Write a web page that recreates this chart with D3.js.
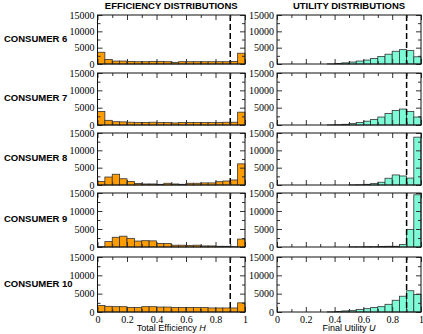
<!DOCTYPE html>
<html>
<head>
<meta charset="utf-8">
<script src="https://cdn.jsdelivr.net/npm/d3@7"></script>
<style>
  body { margin: 0; background: #fff; }
</style>
</head>
<body>
<div id="chart"></div>
<script>
// --- Daten ---
const consumers = ["CONSUMER 6", "CONSUMER 7", "CONSUMER 8", "CONSUMER 9", "CONSUMER 10"];
const binStarts = [0, 0.05, 0.1, 0.15, 0.2, 0.25, 0.3, 0.35, 0.4, 0.45,
                   0.5, 0.55, 0.6, 0.65, 0.7, 0.75, 0.8, 0.85, 0.9, 0.95];
const binWidth = 0.05;

// Total Efficiency H
const effC6  = [3600, 1400, 900, 900, 800, 700, 700, 800, 800, 700, 500, 700, 700, 700, 700, 700, 700, 700, 800, 3300];
const effC7  = [3900, 1350, 950, 900, 800, 700, 700, 800, 700, 700, 600, 700, 700, 700, 700, 700, 700, 800, 800, 3700];
const effC8  = [1000, 2300, 3100, 1800, 1000, 450, 300, 300, 200, 500, 300, 200, 500, 500, 600, 600, 950, 1150, 1450, 6100];
const effC9  = [100, 1500, 2700, 3000, 2400, 1650, 1750, 1700, 1000, 950, 500, 500, 450, 500, 300, 300, 200, 200, 100, 2200];
const effC10 = [1800, 1550, 1450, 1450, 1250, 1250, 1450, 1450, 1350, 1350, 1200, 1250, 1250, 1200, 1200, 1100, 1100, 1100, 1100, 2500];

// Final Utility U
const utilC6  = [0, 0, 0, 0, 0, 0, 0, 50, 150, 350, 600, 900, 1200, 1700, 2300, 3000, 3900, 4400, 4100, 2200];
const utilC7  = [0, 0, 0, 0, 0, 0, 0, 50, 100, 200, 400, 700, 1100, 1600, 2300, 3300, 4200, 4600, 3900, 2300];
const utilC8  = [0, 0, 0, 0, 0, 0, 0, 0, 0, 0, 50, 100, 200, 400, 800, 1950, 2900, 2600, 2000, 13800];
const utilC9  = [0, 0, 0, 0, 0, 0, 0, 0, 0, 0, 50, 50, 100, 100, 150, 200, 200, 700, 4900, 14500];
const utilC10 = [0, 0, 0, 0, 0, 0, 0, 50, 150, 300, 450, 700, 900, 1200, 1450, 2100, 3200, 4300, 5800, 4800];

const effData  = [effC6, effC7, effC8, effC9, effC10];
const utilData = [utilC6, utilC7, utilC8, utilC9, utilC10];

const yTicks = [0, 5000, 10000, 15000];
const yMinorTicks = [2500, 7500, 12500];
const xTicks = [0, 0.2, 0.4, 0.6, 0.8, 1];
const xMinorTicks = [0.1, 0.3, 0.5, 0.7, 0.9];
const xTickLabels = ["0", "0.2", "0.4", "0.6", "0.8", "1"];
const cutoff = 0.9; // gestrichelte Linie

// --- Layout ---
const width = 423, height = 334;
const panelTops = [15, 73, 133, 193, 257];
const panelBottoms = [64, 125, 185, 247, 312];

const columns = [
    { left: 97.5, right: 245, color: "#ff9c00", data: effData,
      title: "EFFICIENCY DISTRIBUTIONS", xlabel: "Total Efficiency ", xvar: "H" },
    { left: 277, right: 421, color: "#7dfad6", data: utilData,
      title: "UTILITY DISTRIBUTIONS", xlabel: "Final Utility ", xvar: "U" }
];

const svg = d3.select("#chart")
    .append("svg")
    .attr("width", width)
    .attr("height", height);

const sans = "'Liberation Sans', Arial, sans-serif";
const serif = "'Liberation Serif', 'Times New Roman', serif";

// Achsen-Styling vereinheitlichen
function styleAxis(g, showText) {
    g.select(".domain").remove();
    g.selectAll("line").attr("stroke", "#333").attr("stroke-width", 1);
    g.selectAll("text")
        .attr("fill", "#000")
        .style("font-family", serif)
        .style("font-size", "10px")
        .style("display", showText ? null : "none");
}

columns.forEach(col => {
    const x = d3.scaleLinear().domain([0, 1]).range([col.left, col.right]);

    // Spaltentitel
    svg.append("text")
        .attr("x", (col.left + col.right) / 2)
        .attr("y", 9)
        .attr("text-anchor", "middle")
        .style("font-family", sans)
        .style("font-weight", "bold")
        .style("font-size", "9.5px")
        .text(col.title);

    consumers.forEach((name, i) => {
        const y = d3.scaleLinear().domain([0, 15000]).range([panelBottoms[i], panelTops[i]]);
        const g = svg.append("g");

        // Balken
        const bars = binStarts
            .map((b, j) => ({ x0: b, v: col.data[i][j] }))
            .filter(d => d.v > 0);

        g.selectAll("rect.bar")
            .data(bars)
            .enter()
            .append("rect")
            .attr("class", "bar")
            .attr("x", d => x(d.x0))
            .attr("width", d => x(d.x0 + binWidth) - x(d.x0))
            .attr("y", d => y(d.v))
            .attr("height", d => y(0) - y(d.v))
            .attr("fill", col.color)
            .attr("stroke", "#333")
            .attr("stroke-width", 0.8);

        // gestrichelte Linie bei 0.9
        g.append("line")
            .attr("x1", x(cutoff)).attr("x2", x(cutoff))
            .attr("y1", y(15000)).attr("y2", y(0))
            .attr("stroke", "#000")
            .attr("stroke-width", 1.5)
            .attr("stroke-dasharray", "6,3");

        // Ticks links (mit Beschriftung) und rechts
        g.append("g")
            .attr("transform", `translate(${col.left},0)`)
            .call(d3.axisLeft(y).tickValues(yTicks).tickSize(-5).tickPadding(3).tickFormat(d3.format("d")))
            .call(a => styleAxis(a, true));
        g.append("g")
            .attr("transform", `translate(${col.left},0)`)
            .call(d3.axisLeft(y).tickValues(yMinorTicks).tickSize(-3))
            .call(a => styleAxis(a, false));
        g.append("g")
            .attr("transform", `translate(${col.right},0)`)
            .call(d3.axisRight(y).tickValues(yTicks).tickSize(-5))
            .call(a => styleAxis(a, false));
        g.append("g")
            .attr("transform", `translate(${col.right},0)`)
            .call(d3.axisRight(y).tickValues(yMinorTicks).tickSize(-3))
            .call(a => styleAxis(a, false));

        // Ticks oben und unten
        const isLast = i === consumers.length - 1;
        g.append("g")
            .attr("transform", `translate(0,${panelTops[i]})`)
            .call(d3.axisTop(x).tickValues(xTicks).tickSize(-5))
            .call(a => styleAxis(a, false));
        g.append("g")
            .attr("transform", `translate(0,${panelTops[i]})`)
            .call(d3.axisTop(x).tickValues(xMinorTicks).tickSize(-3))
            .call(a => styleAxis(a, false));
        g.append("g")
            .attr("transform", `translate(0,${panelBottoms[i]})`)
            .call(d3.axisBottom(x).tickValues(xTicks).tickSize(-5).tickPadding(4)
                .tickFormat((d, k) => xTickLabels[k]))
            .call(a => styleAxis(a, isLast));
        g.append("g")
            .attr("transform", `translate(0,${panelBottoms[i]})`)
            .call(d3.axisBottom(x).tickValues(xMinorTicks).tickSize(-3))
            .call(a => styleAxis(a, false));

        // Rahmen
        g.append("rect")
            .attr("x", col.left)
            .attr("y", panelTops[i])
            .attr("width", col.right - col.left)
            .attr("height", panelBottoms[i] - panelTops[i])
            .attr("fill", "none")
            .attr("stroke", "#111")
            .attr("stroke-width", 1);
    });

    // x-Achsentitel
    const t = svg.append("text")
        .attr("x", (col.left + col.right) / 2)
        .attr("y", 331)
        .attr("text-anchor", "middle")
        .style("font-family", sans)
        .style("font-size", "9px");
    t.append("tspan").text(col.xlabel);
    t.append("tspan").style("font-style", "italic").text(col.xvar);
});

// Zeilenbeschriftungen
svg.selectAll("text.consumer")
    .data(consumers)
    .enter()
    .append("text")
    .attr("class", "consumer")
    .attr("x", 4)
    .attr("y", (d, i) => (panelTops[i] + panelBottoms[i]) / 2 + 2)
    .style("font-family", sans)
    .style("font-weight", "bold")
    .style("font-size", "9.5px")
    .text(d => d);
</script>
</body>
</html>
